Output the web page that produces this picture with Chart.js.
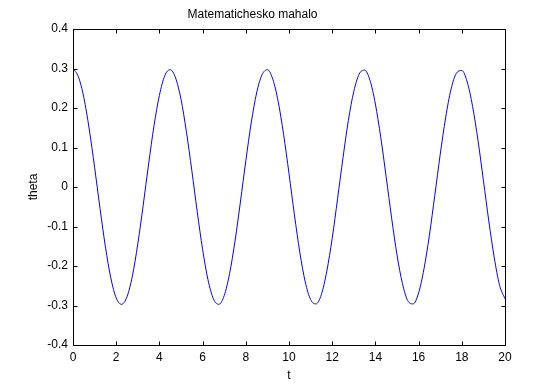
<!DOCTYPE html>
<html>
<head>
<meta charset="utf-8">
<script src="https://cdn.jsdelivr.net/npm/chart.js@4.4.1/dist/chart.umd.min.js"></script>
<style>
  html, body { margin: 0; padding: 0; background: #fff; }
  #wrap { width: 558px; height: 388px; }
</style>
</head>
<body>
<div id="wrap"><canvas id="chart"></canvas></div>
<script>
// time samples (s)
const tValues = [
  0, 0.25, 0.5, 0.75, 1, 1.25, 1.5, 1.75, 2, 2.25, 2.5, 2.75, 3, 3.25, 3.5, 3.75,
  4, 4.25, 4.5, 4.75, 5, 5.25, 5.5, 5.75, 6, 6.25, 6.5, 6.75, 7, 7.25, 7.5, 7.75,
  8, 8.25, 8.5, 8.75, 9, 9.25, 9.5, 9.75, 10, 10.25, 10.5, 10.75, 11, 11.25, 11.5, 11.75,
  12, 12.25, 12.5, 12.75, 13, 13.25, 13.5, 13.75, 14, 14.25, 14.5, 14.75, 15, 15.25, 15.5, 15.75,
  16, 16.25, 16.5, 16.75, 17, 17.25, 17.5, 17.75, 18, 18.25, 18.5, 18.75, 19, 19.25, 19.5, 19.75, 20
];
// angle theta
const thetaValues = [
  0.300, 0.279, 0.227, 0.147, 0.050, -0.054, -0.151, -0.230, -0.281, -0.297, -0.278, -0.225, -0.144, -0.046, 0.058, 0.155,
  0.232, 0.282, 0.297, 0.276, 0.222, 0.140, 0.042, -0.062, -0.158, -0.235, -0.283, -0.297, -0.275, -0.219, -0.137, -0.038,
  0.066, 0.162, 0.238, 0.284, 0.297, 0.273, 0.216, 0.133, 0.034, -0.070, -0.165, -0.240, -0.285, -0.296, -0.272, -0.213,
  -0.130, -0.029, 0.074, 0.169, 0.242, 0.286, 0.296, 0.270, 0.210, 0.125, 0.025, -0.078, -0.172, -0.244, -0.288, -0.296,
  -0.268, -0.207, -0.122, -0.021, 0.082, 0.175, 0.247, 0.288, 0.295, 0.266, 0.204, 0.118, 0.017, -0.086, -0.178, -0.249, -0.283
];
const xTicks = [0, 2, 4, 6, 8, 10, 12, 14, 16, 18, 20];
const yTicks = [-0.4, -0.3, -0.2, -0.1, 0, 0.1, 0.2, 0.3, 0.4];
const yTickLabels = ["-0.4", "-0.3", "-0.2", "-0.1", "0", "0.1", "0.2", "0.3", "0.4"];

const FONT = "'Liberation Sans', Arial, Helvetica, sans-serif";

// MATLAB style box with inward ticks on all four sides
const boxPlugin = {
  id: "box",
  afterDraw(chart) {
    const ctx = chart.ctx;
    const a = chart.chartArea;
    const xs = chart.scales.x;
    const ys = chart.scales.y;
    const L = Math.round(a.left) + 0.5, R = Math.round(a.right) + 0.5;
    const T = Math.round(a.top) + 0.5, B = Math.round(a.bottom) + 0.5;
    const len = 4;
    ctx.save();
    ctx.strokeStyle = "#000";
    ctx.lineWidth = 1;
    ctx.beginPath();
    ctx.rect(L, T, R - L, B - T);
    xTicks.forEach((v) => {
      const px = Math.round(xs.getPixelForValue(v)) + 0.5;
      ctx.moveTo(px, B); ctx.lineTo(px, B - len);
      ctx.moveTo(px, T); ctx.lineTo(px, T + len);
    });
    yTicks.forEach((v) => {
      const py = Math.round(ys.getPixelForValue(v)) + 0.5;
      ctx.moveTo(L, py); ctx.lineTo(L + len, py);
      ctx.moveTo(R, py); ctx.lineTo(R - len, py);
    });
    ctx.stroke();
    ctx.restore();
  }
};

new Chart(document.getElementById("chart"), {
  type: "line",
  data: {
    datasets: [{
      data: tValues.map((t, i) => ({ x: t, y: thetaValues[i] })),
      borderColor: "#0000ff",
      borderWidth: 1,
      pointRadius: 0,
      cubicInterpolationMode: "monotone",
      fill: false
    }]
  },
  options: {
    responsive: true,
    maintainAspectRatio: false,
    animation: false,
    devicePixelRatio: 1,
    layout: { padding: { top: 0, right: 53, bottom: 0, left: 0 } },
    plugins: {
      legend: { display: false },
      tooltip: { enabled: false },
      title: {
        display: true,
        text: "Matematichesko mahalo",
        color: "#000",
        font: { family: FONT, size: 12, weight: "normal", lineHeight: 1.2 },
        padding: { top: 7.8, bottom: 6.8 }
      }
    },
    scales: {
      x: {
        type: "linear",
        min: 0,
        max: 20,
        afterBuildTicks: (s) => { s.ticks = xTicks.map((v) => ({ value: v })); },
        afterFit: (s) => { s.height = 43; },
        grid: { display: false, drawTicks: false },
        border: { display: false },
        ticks: {
          color: "#000",
          padding: 5,
          maxRotation: 0,
          font: { family: FONT, size: 12 },
          callback: (v) => String(v)
        },
        title: {
          display: true,
          text: "t",
          color: "#000",
          font: { family: FONT, size: 12, lineHeight: 1.2 },
          padding: { top: 0, bottom: 4.8 }
        }
      },
      y: {
        type: "linear",
        min: -0.4,
        max: 0.4,
        afterBuildTicks: (s) => { s.ticks = yTicks.map((v) => ({ value: v })); },
        afterFit: (s) => { s.width = 73; },
        grid: { display: false, drawTicks: false },
        border: { display: false },
        ticks: {
          color: "#000",
          padding: 5,
          font: { family: FONT, size: 12 },
          callback: (v) => {
            const i = yTicks.findIndex((t) => Math.abs(t - v) < 1e-9);
            return i >= 0 ? yTickLabels[i] : "";
          }
        },
        title: {
          display: true,
          text: "theta",
          color: "#000",
          font: { family: FONT, size: 12, lineHeight: 1.2 },
          padding: { top: 26.3, bottom: 0 }
        }
      }
    }
  },
  plugins: [boxPlugin]
});
</script>
</body>
</html>
